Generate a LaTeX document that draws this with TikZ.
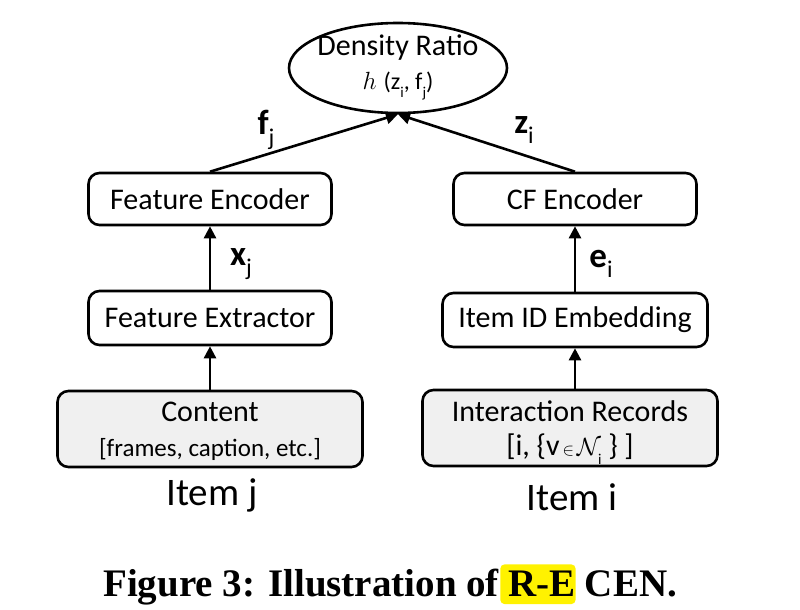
\documentclass[tikz,border=0pt]{standalone}
\usepackage{fontspec}
\setmainfont{Carlito}
\newfontfamily\capfont{Liberation Serif}
\usetikzlibrary{shapes.geometric,arrows.meta}
\newcommand{\lowsub}[2][17]{\raisebox{-0.3em}{\fontsize{#1}{#1}\selectfont #2}}
\tikzset{
  box/.style={draw, line width=2.6pt, rounded corners=11pt, minimum height=52pt, font=\fontsize{30}{32}\selectfont, inner sep=0pt},
  inbox/.style={box, fill=black!6, minimum height=76pt, align=center},
  arr/.style={line width=2.6pt, -{Triangle[length=12pt,width=12pt]}},
  lbl/.style={font=\fontsize{35}{35}\selectfont\bfseries, inner sep=0pt},
  itm/.style={font=\fontsize{39}{39}\selectfont, inner sep=0pt},
  captxt/.style={font=\fontsize{39}{39}\selectfont\capfont\bfseries, inner sep=0pt},
}
\begin{document}
\begin{tikzpicture}[x=1pt,y=-1pt]
\useasboundingbox (0,0) rectangle (800,610);
\node[ellipse, draw, line width=2.6pt, minimum width=218pt, minimum height=90pt, inner sep=0pt] (dr) at (398,68) {};
\node[font=\fontsize{30}{32}\selectfont, inner sep=0pt] (drt) at (398,48) {Density Ratio};
\node[inner sep=0pt] (drh) at (398,86) {{\fontsize{38}{38}\selectfont$h$}\hspace{7pt}{\fontsize{24}{24}\selectfont(z\lowsub[15]{i}, f\lowsub[15]{j})}};
\node[box, minimum width=243pt] (fenc) at (210,199) {Feature Encoder};
\node[box, minimum width=243pt, minimum height=54pt] (fext) at (210,318) {Feature Extractor};
\node[box, minimum width=243pt] (cfenc) at (575,199) {CF Encoder};
\node[box, minimum width=265pt, minimum height=54pt] (emb) at (575,320) {Item ID Embedding};
\node[inbox, minimum width=305pt, text depth=0pt] (cont) at (210,429) {Content\\[3pt]{\fontsize{25}{27}\selectfont[frames, caption, etc.]}};
\node[inbox, minimum width=295pt, text depth=0pt] (inter) at (570,428) {Interaction Records\\[2pt]{[i, \{v{\fontsize{16}{16}\selectfont$\,\in\,$}$\mathcal{N}$\kern-3pt\lowsub[15]{i} \} ]}};
\node[itm] (itj) at (212,495) {Item j};
\node[itm] (iti) at (572,497) {Item i};
\draw[arr] (fenc.north) -- (dr.south);
\draw[arr] (cfenc.north) -- (dr.south);
\draw[arr] (fext.north) -- (fenc.south);
\draw[arr] (emb.north) -- (cfenc.south);
\draw[arr] (cont.north) -- (fext.south);
\draw[arr] (inter.north -| emb.south) -- (emb.south);
\node[lbl] (lf) at (266,130) {f\lowsub[24]{\normalfont j}};
\node[lbl] (lz) at (524,130) {z\lowsub[24]{\normalfont i}};
\node[lbl] (lx) at (241,264) {x\lowsub[24]{\normalfont j}};
\node[lbl] (le) at (601,264) {e\lowsub[24]{\normalfont i}};
\node[captxt, anchor=base west] (cap1) at (103,596) {Figure 3: Illustration of};
\node[captxt, anchor=base west, fill=yellow, rounded corners=4pt, inner xsep=0pt, inner ysep=6pt, text depth=2pt] (cap2) at ([xshift=1pt]cap1.base east) {\hspace{8pt}R-E\hspace{1pt}};
\node[captxt, anchor=base west] (cap3) at ([xshift=9pt]cap2.base east) {CEN.};
\end{tikzpicture}
\end{document}
